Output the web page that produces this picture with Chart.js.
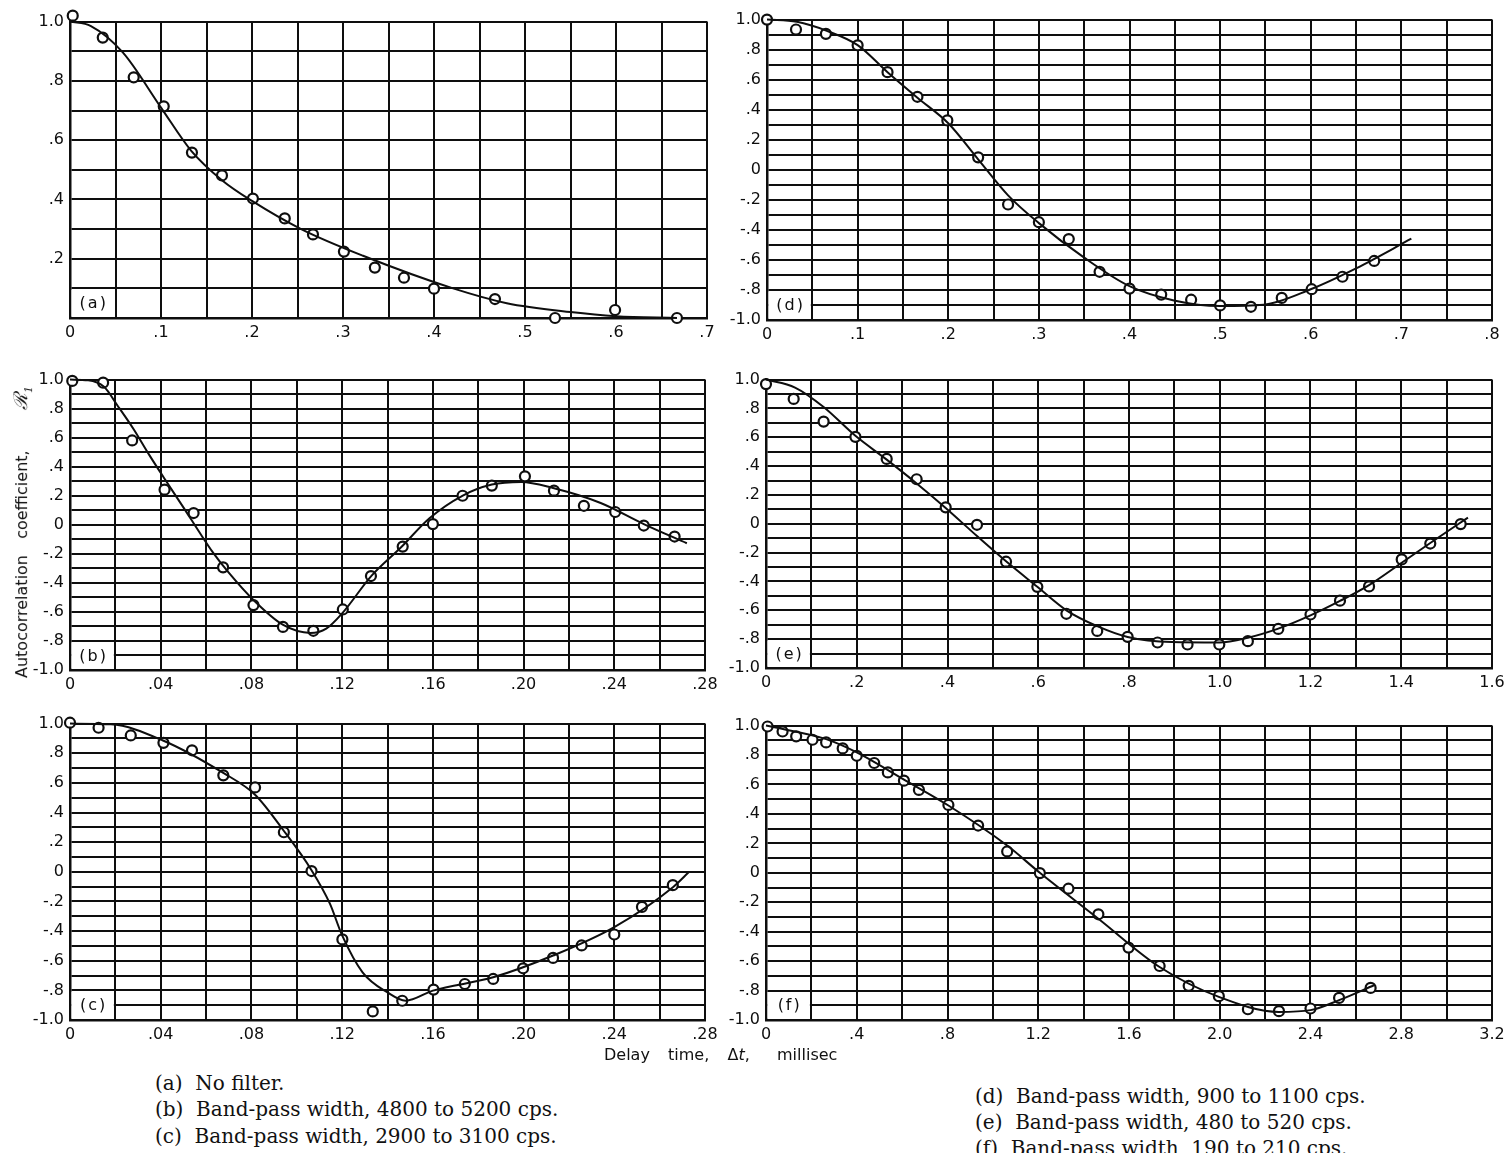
<!DOCTYPE html>
<html>
<head>
<meta charset="utf-8">
<script src="https://cdn.jsdelivr.net/npm/chart.js@4.4.0/dist/chart.umd.min.js"></script>
<style>
  body { margin: 0; width: 1507px; height: 1153px; background: #fff; position: relative; overflow: hidden; color: #111; }
  canvas { position: absolute; }
  #ytitle { position: absolute; left: 21px; top: 532px; transform: translate(-50%, -50%) rotate(-90deg);
            font: 16px 'DejaVu Sans'; white-space: pre; word-spacing: 3px; }
  #xtitle { position: absolute; left: 604px; top: 1045px; font: 16px 'DejaVu Sans'; white-space: pre; word-spacing: 4px; }
  .cap { position: absolute; font: 20px 'DejaVu Serif'; white-space: pre; line-height: 22px; }
</style>
</head>
<body>
<canvas id="ca"></canvas>
<canvas id="cd"></canvas>
<canvas id="cb"></canvas>
<canvas id="ce"></canvas>
<canvas id="cc"></canvas>
<canvas id="cf"></canvas>
<div id="ytitle">Autocorrelation  coefficient,     <i style="font-family:'DejaVu Serif'; font-size:19px">ℛ<sub style="font-size:11px">1</sub></i></div>
<div id="xtitle">Delay  time,  Δ<i>t</i>,   millisec</div>
<div class="cap" style="left:155px; top:1072px">(a)  No filter.</div>
<div class="cap" style="left:155px; top:1098px">(b)  Band-pass width, 4800 to 5200 cps.</div>
<div class="cap" style="left:155px; top:1125px">(c)  Band-pass width, 2900 to 3100 cps.</div>
<div class="cap" style="left:975px; top:1085px">(d)  Band-pass width, 900 to 1100 cps.</div>
<div class="cap" style="left:975px; top:1111px">(e)  Band-pass width, 480 to 520 cps.</div>
<div class="cap" style="left:975px; top:1137px">(f)  Band-pass width, 190 to 210 cps.</div>
<script>
// ---- data ----
// (a) no filter
const aPtsX = [0.003, 0.036, 0.070, 0.103, 0.134, 0.167, 0.201, 0.236, 0.267, 0.301, 0.335, 0.367, 0.400, 0.467, 0.533, 0.599, 0.667];
const aPtsY = [1.02, 0.946, 0.812, 0.714, 0.558, 0.481, 0.403, 0.336, 0.282, 0.224, 0.170, 0.136, 0.099, 0.064, 0.0, 0.027, 0.0];
const aFitX = [0, 0.023, 0.058, 0.1, 0.133, 0.167, 0.2, 0.254, 0.322, 0.421, 0.48, 0.55, 0.60, 0.667];
const aFitY = [1.0, 0.985, 0.896, 0.71, 0.565, 0.465, 0.395, 0.30, 0.21, 0.10, 0.05, 0.02, 0.006, 0.0];

// (b) 4800-5200 cps
const bPtsX = [0.001, 0.0146, 0.0274, 0.0417, 0.0545, 0.0675, 0.0809, 0.0939, 0.1073, 0.1203, 0.1327, 0.1467, 0.160, 0.1731, 0.186, 0.2006, 0.2134, 0.2266, 0.2404, 0.253, 0.2666];
const bPtsY = [0.991, 0.979, 0.581, 0.242, 0.081, -0.293, -0.553, -0.703, -0.730, -0.583, -0.353, -0.150, 0.005, 0.200, 0.270, 0.334, 0.235, 0.131, 0.088, -0.005, -0.081];
const bFitX = [0, 0.008, 0.015, 0.021, 0.028, 0.035, 0.042, 0.05, 0.057, 0.063, 0.07, 0.081, 0.094, 0.106, 0.113, 0.12, 0.133, 0.146, 0.1585, 0.173, 0.186, 0.199, 0.213, 0.234, 0.253, 0.272];
const bFitY = [1.0, 0.995, 0.95, 0.82, 0.66, 0.48, 0.31, 0.12, -0.05, -0.19, -0.33, -0.52, -0.69, -0.745, -0.715, -0.61, -0.35, -0.155, 0.045, 0.2, 0.277, 0.295, 0.253, 0.15, 0.005, -0.127];

// (c) 2900-3100 cps
const cPtsX = [0, 0.0126, 0.0268, 0.0412, 0.0538, 0.0676, 0.0816, 0.0943, 0.1065, 0.1201, 0.1335, 0.1465, 0.1603, 0.1741, 0.1866, 0.1998, 0.2130, 0.2256, 0.2400, 0.2522, 0.2658];
const cPtsY = [1.006, 0.972, 0.920, 0.870, 0.820, 0.651, 0.569, 0.267, 0.005, -0.456, -0.942, -0.870, -0.795, -0.757, -0.723, -0.651, -0.581, -0.497, -0.423, -0.237, -0.090];
const cFitX = [0, 0.018, 0.041, 0.0676, 0.0816, 0.094, 0.1065, 0.1146, 0.12, 0.129, 0.14, 0.148, 0.16, 0.1866, 0.213, 0.24, 0.266, 0.273];
const cFitY = [1.0, 0.995, 0.886, 0.667, 0.52, 0.282, 0.011, -0.215, -0.429, -0.678, -0.814, -0.870, -0.802, -0.712, -0.565, -0.373, -0.102, 0.0];

// (d) 900-1100 cps
const dPtsX = [0, 0.032, 0.065, 0.100, 0.133, 0.166, 0.199, 0.233, 0.266, 0.300, 0.333, 0.367, 0.400, 0.435, 0.468, 0.500, 0.534, 0.568, 0.601, 0.635, 0.670];
const dPtsY = [1.0, 0.934, 0.905, 0.829, 0.650, 0.486, 0.329, 0.083, -0.231, -0.349, -0.461, -0.679, -0.791, -0.831, -0.865, -0.903, -0.912, -0.853, -0.795, -0.712, -0.607];
const dFitX = [0, 0.033, 0.066, 0.1, 0.133, 0.166, 0.2, 0.233, 0.266, 0.3, 0.35, 0.4, 0.449, 0.5, 0.548, 0.6, 0.65, 0.711];
const dFitY = [1.0, 0.985, 0.925, 0.83, 0.65, 0.48, 0.31, 0.07, -0.17, -0.355, -0.585, -0.775, -0.87, -0.907, -0.898, -0.795, -0.656, -0.459];

// (e) 480-520 cps
const ePtsX = [0, 0.061, 0.127, 0.197, 0.266, 0.332, 0.396, 0.465, 0.529, 0.598, 0.662, 0.730, 0.797, 0.863, 0.929, 0.999, 1.062, 1.129, 1.200, 1.265, 1.329, 1.401, 1.464, 1.531];
const ePtsY = [0.969, 0.866, 0.709, 0.603, 0.450, 0.309, 0.114, -0.007, -0.263, -0.437, -0.624, -0.743, -0.784, -0.823, -0.837, -0.837, -0.814, -0.729, -0.629, -0.533, -0.434, -0.247, -0.137, -0.002];
const eFitX = [0, 0.064, 0.127, 0.197, 0.266, 0.332, 0.396, 0.465, 0.529, 0.598, 0.662, 0.73, 0.797, 0.894, 0.999, 1.062, 1.129, 1.2, 1.265, 1.329, 1.401, 1.464, 1.547];
const eFitY = [1.0, 0.945, 0.81, 0.61, 0.445, 0.28, 0.11, -0.085, -0.26, -0.437, -0.6, -0.71, -0.785, -0.82, -0.823, -0.79, -0.727, -0.635, -0.535, -0.425, -0.27, -0.133, 0.043];

// (f) 190-210 cps
const fPtsX = [0.007, 0.073, 0.133, 0.205, 0.265, 0.338, 0.400, 0.477, 0.537, 0.608, 0.674, 0.804, 0.935, 1.063, 1.207, 1.333, 1.465, 1.598, 1.735, 1.863, 1.996, 2.124, 2.261, 2.400, 2.526, 2.665];
const fPtsY = [0.994, 0.960, 0.927, 0.904, 0.886, 0.845, 0.795, 0.746, 0.682, 0.626, 0.563, 0.461, 0.321, 0.145, -0.002, -0.108, -0.282, -0.508, -0.633, -0.768, -0.838, -0.927, -0.940, -0.922, -0.850, -0.782];
const fFitX = [0, 0.265, 0.4, 0.608, 0.804, 1.063, 1.207, 1.465, 1.735, 1.996, 2.261, 2.4, 2.526, 2.68];
const fFitY = [1.0, 0.908, 0.818, 0.633, 0.457, 0.185, 0.0, -0.312, -0.64, -0.843, -0.945, -0.933, -0.865, -0.764];

// tick labels (every second grid line carries one)
const xLabelsA = ['0', '.1', '.2', '.3', '.4', '.5', '.6', '.7'];
const xLabelsD = ['0', '.1', '.2', '.3', '.4', '.5', '.6', '.7', '.8'];
const xLabelsBC = ['0', '.04', '.08', '.12', '.16', '.20', '.24', '.28'];
const xLabelsE = ['0', '.2', '.4', '.6', '.8', '1.0', '1.2', '1.4', '1.6'];
const xLabelsF = ['0', '.4', '.8', '1.2', '1.6', '2.0', '2.4', '2.8', '3.2'];
const yLabelsA = ['', '.2', '.4', '.6', '.8', '1.0'];
const yLabelsFull = ['-1.0', '-.8', '-.6', '-.4', '-.2', '0', '.2', '.4', '.6', '.8', '1.0'];

// ---- drawing ----
const INK = '#0e0e0e';
const PAD_L = 56, PAD_T = 14, PAD_R = 24, PAD_B = 30;
const tickFont = { family: 'DejaVu Sans', size: 16 };

function zip(xs, ys) {
    return xs.map((x, i) => ({ x: x, y: ys[i] }));
}

function gridValues(min, max, step) {
    const n = Math.round((max - min) / step);
    const out = [];
    for (let i = 0; i <= n; i++) out.push(Math.round((min + i * step) * 1e6) / 1e6);
    return out;
}

// white cell in the lower left corner holding the panel letter
const cellLabel = {
    id: 'cellLabel',
    beforeDatasetsDraw(chart, args, opts) {
        const { ctx, scales: { x, y } } = chart;
        const x0 = x.getPixelForValue(x.min), x1 = x.getPixelForValue(x.min + opts.w);
        const y0 = y.getPixelForValue(y.min), y1 = y.getPixelForValue(y.min + opts.h);
        ctx.save();
        ctx.fillStyle = '#fff';
        ctx.fillRect(x0 + 1.5, y1 + 1.5, x1 - x0 - 3, y0 - y1 - 3);
        ctx.fillStyle = INK;
        ctx.font = '16px DejaVu Sans';
        ctx.letterSpacing = '2px';
        ctx.textAlign = 'center';
        ctx.textBaseline = 'middle';
        ctx.fillText(opts.text, (x0 + x1) / 2 + 1, (y0 + y1) / 2 + 1);
        ctx.restore();
    }
};

function makePanel(id, box, cfg) {
    const cv = document.getElementById(id);
    cv.width = box.right - box.left + PAD_L + PAD_R;
    cv.height = box.bottom - box.top + PAD_T + PAD_B;
    cv.style.left = (box.left - PAD_L) + 'px';
    cv.style.top = (box.top - PAD_T) + 'px';

    const xGrid = gridValues(0, cfg.xMax, cfg.xStep);
    const yGrid = gridValues(cfg.yMin, 1, 0.1);

    new Chart(cv, {
        type: 'line',
        data: {
            datasets: [{
                data: zip(cfg.fitX, cfg.fitY),
                borderColor: INK,
                borderWidth: 2,
                pointRadius: 0,
                fill: false,
                cubicInterpolationMode: 'monotone',
                clip: false
            }, {
                data: zip(cfg.ptsX, cfg.ptsY),
                showLine: false,
                pointRadius: 5,
                pointBorderWidth: 2.2,
                pointBorderColor: INK,
                pointBackgroundColor: '#fff',
                clip: false
            }]
        },
        options: {
            responsive: false,
            animation: false,
            events: [],
            layout: { padding: { left: 0, top: PAD_T, right: PAD_R, bottom: 0 }, autoPadding: false },
            plugins: {
                legend: { display: false },
                tooltip: { enabled: false },
                cellLabel: { text: cfg.letter, w: cfg.xStep, h: cfg.yMin === 0 ? 0.1 : 0.2 }
            },
            scales: {
                x: {
                    type: 'linear', min: 0, max: cfg.xMax,
                    afterBuildTicks: s => { s.ticks = xGrid.map(v => ({ value: v })); },
                    afterFit: s => { s.height = PAD_B; },
                    ticks: {
                        autoSkip: false, maxRotation: 0, padding: 5, color: INK, font: tickFont,
                        callback: (v, i) => (i % 2 === 0 ? cfg.xLabels[i / 2] : '')
                    },
                    grid: { color: INK, lineWidth: 2, drawTicks: false },
                    border: { color: INK, width: 2.5 }
                },
                y: {
                    type: 'linear', min: cfg.yMin, max: 1,
                    afterBuildTicks: s => { s.ticks = yGrid.map(v => ({ value: v })); },
                    afterFit: s => { s.width = PAD_L; },
                    ticks: {
                        autoSkip: false, padding: 6, color: INK, font: tickFont,
                        callback: (v, i) => (i % 2 === 0 ? cfg.yLabels[i / 2] : '')
                    },
                    grid: { color: INK, lineWidth: 2, drawTicks: false },
                    border: { color: INK, width: 2.5 }
                }
            }
        },
        plugins: [cellLabel]
    });
}

makePanel('ca', { left: 70, right: 707, top: 20, bottom: 318 }, {
    letter: '(a)', xMax: 0.7, xStep: 0.05, yMin: 0, xLabels: xLabelsA, yLabels: yLabelsA,
    ptsX: aPtsX, ptsY: aPtsY, fitX: aFitX, fitY: aFitY
});
makePanel('cd', { left: 767, right: 1492, top: 18, bottom: 320 }, {
    letter: '(d)', xMax: 0.8, xStep: 0.05, yMin: -1, xLabels: xLabelsD, yLabels: yLabelsFull,
    ptsX: dPtsX, ptsY: dPtsY, fitX: dFitX, fitY: dFitY
});
makePanel('cb', { left: 70, right: 705, top: 378, bottom: 670 }, {
    letter: '(b)', xMax: 0.28, xStep: 0.02, yMin: -1, xLabels: xLabelsBC, yLabels: yLabelsFull,
    ptsX: bPtsX, ptsY: bPtsY, fitX: bFitX, fitY: bFitY
});
makePanel('ce', { left: 766, right: 1492, top: 378, bottom: 668 }, {
    letter: '(e)', xMax: 1.6, xStep: 0.1, yMin: -1, xLabels: xLabelsE, yLabels: yLabelsFull,
    ptsX: ePtsX, ptsY: ePtsY, fitX: eFitX, fitY: eFitY
});
makePanel('cc', { left: 70, right: 705, top: 722, bottom: 1020 }, {
    letter: '(c)', xMax: 0.28, xStep: 0.02, yMin: -1, xLabels: xLabelsBC, yLabels: yLabelsFull,
    ptsX: cPtsX, ptsY: cPtsY, fitX: cFitX, fitY: cFitY
});
makePanel('cf', { left: 766, right: 1492, top: 724, bottom: 1020 }, {
    letter: '(f)', xMax: 3.2, xStep: 0.2, yMin: -1, xLabels: xLabelsF, yLabels: yLabelsFull,
    ptsX: fPtsX, ptsY: fPtsY, fitX: fFitX, fitY: fFitY
});
</script>
</body>
</html>
